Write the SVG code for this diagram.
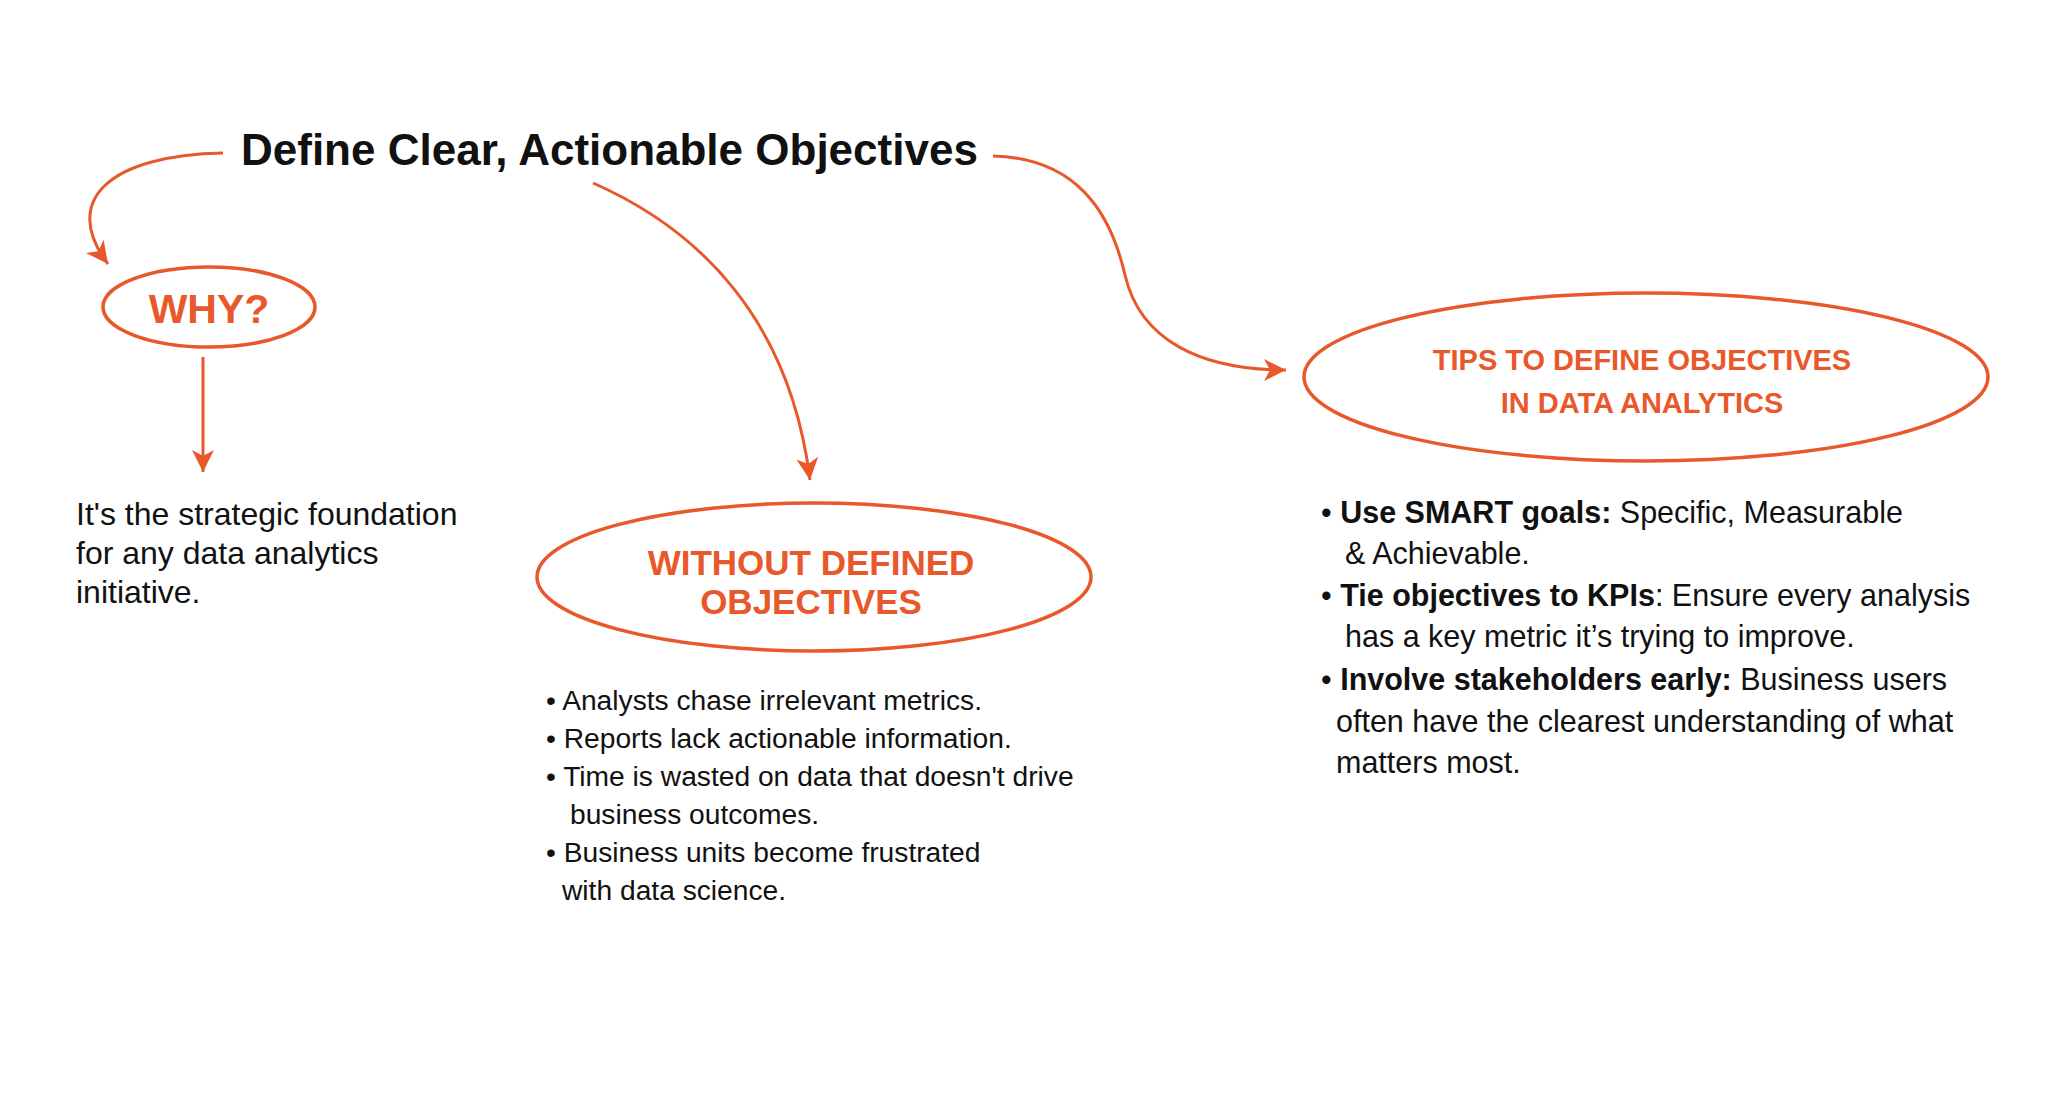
<svg xmlns="http://www.w3.org/2000/svg" width="2048" height="1105" viewBox="0 0 2048 1105">
  <style>
    .conn { fill: none; stroke: #E8582B; stroke-width: 3; }
    .oval { fill: none; stroke: #E8582B; stroke-width: 3.5; }
    .olab { font-family: "Liberation Sans", Arial, sans-serif; font-weight: bold; fill: #E8582B; text-anchor: middle; }
    .body { font-family: "Liberation Sans", Arial, sans-serif; fill: #111111; }
    .b { font-weight: bold; }
  </style>
  <defs>
    <marker id="arrow" markerUnits="userSpaceOnUse" markerWidth="24" markerHeight="24" refX="22" refY="11" orient="auto" viewBox="0 0 24 22" overflow="visible">
      <path d="M0,0 L22,11 L0,22 L6,11 Z" fill="#E8582B"/>
    </marker>
  </defs>
  <rect x="0" y="0" width="2048" height="1105" fill="#FFFFFF"/>

  <g id="connectors">
    <path class="conn" d="M223,153 C110,155 60,200 108,264" marker-end="url(#arrow)"/>
    <path class="conn" d="M203,357 L203,472" marker-end="url(#arrow)"/>
    <path class="conn" d="M593,183 C700,230 790,320 810,480" marker-end="url(#arrow)"/>
    <path class="conn" d="M993,156 C1075,158 1110,210 1125,275 S1200,370 1286,370" marker-end="url(#arrow)"/>
  </g>

  <g id="title">
    <text class="body b" x="241" y="165" font-size="44" fill="#000000">Define Clear, Actionable Objectives</text>
  </g>

  <g id="why">
    <ellipse class="oval" cx="209" cy="307" rx="106" ry="40"/>
    <text class="olab" x="209" y="323" font-size="41">WHY?</text>
  </g>

  <g id="why-text">
    <text class="body" font-size="32">
      <tspan x="76" y="525">It's the strategic foundation</tspan>
      <tspan x="76" y="564">for any data analytics</tspan>
      <tspan x="76" y="603">initiative.</tspan>
    </text>
  </g>

  <g id="without">
    <ellipse class="oval" cx="814" cy="577" rx="277" ry="74"/>
    <text class="olab" x="811" y="575" font-size="35">WITHOUT DEFINED</text>
    <text class="olab" x="811" y="614" font-size="35">OBJECTIVES</text>
  </g>

  <g id="without-text">
    <text class="body" font-size="28.2">
      <tspan x="546" y="710">• Analysts chase irrelevant metrics.</tspan>
      <tspan x="546" y="748">• Reports lack actionable information.</tspan>
      <tspan x="546" y="786">• Time is wasted on data that doesn't drive</tspan>
      <tspan x="570" y="824">business outcomes.</tspan>
      <tspan x="546" y="862">• Business units become frustrated</tspan>
      <tspan x="562" y="900">with data science.</tspan>
    </text>
  </g>

  <g id="tips">
    <ellipse class="oval" cx="1646" cy="377" rx="342" ry="84"/>
    <text class="olab" x="1642" y="370" font-size="29">TIPS TO DEFINE OBJECTIVES</text>
    <text class="olab" x="1642" y="413" font-size="29">IN DATA ANALYTICS</text>
  </g>

  <g id="tips-text">
    <text class="body" font-size="30.5" x="1321" y="523">• <tspan class="b">Use SMART goals:</tspan> Specific, Measurable</text>
    <text class="body" font-size="30.5" x="1345" y="564">&amp; Achievable.</text>
    <text class="body" font-size="30.5" x="1321" y="606">• <tspan class="b">Tie objectives to KPIs</tspan>: Ensure every analysis</text>
    <text class="body" font-size="30.5" x="1345" y="647">has a key metric it’s trying to improve.</text>
    <text class="body" font-size="30.5" x="1321" y="690">• <tspan class="b">Involve stakeholders early:</tspan> Business users</text>
    <text class="body" font-size="30.5" x="1336" y="732">often have the clearest understanding of what</text>
    <text class="body" font-size="30.5" x="1336" y="773">matters most.</text>
  </g>
</svg>
